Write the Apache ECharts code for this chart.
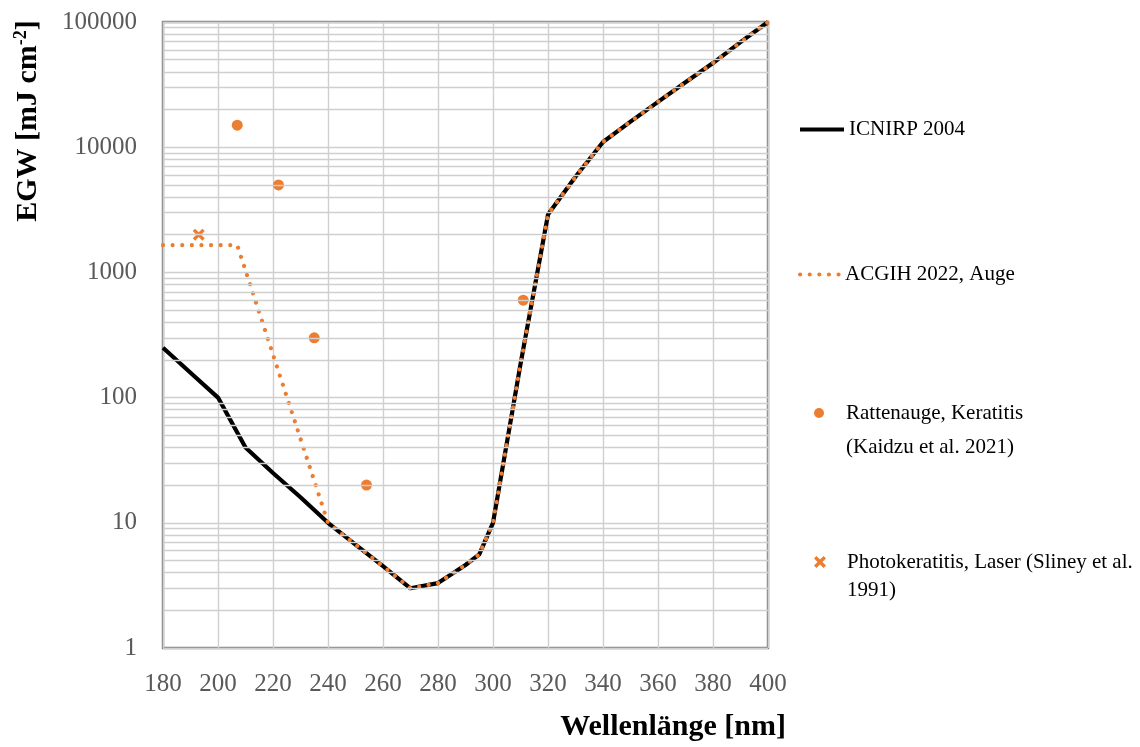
<!DOCTYPE html>
<html>
<head>
<meta charset="utf-8">
<script src="https://cdn.jsdelivr.net/npm/echarts@6/dist/echarts.min.js"></script>
<style>
  html, body { margin: 0; padding: 0; background: #ffffff; }
  #chart { width: 1140px; height: 747px; }
</style>
</head>
<body>
<div id="chart"></div>
<script>
// ICNIRP 2004 exposure limit (mJ/cm²) over wavelength (nm)
const icnirpWavelength = [180, 190, 200, 210, 220, 230, 240, 250, 260, 270, 280, 290, 295, 300, 310, 320, 330, 340, 350, 360, 370, 380, 390, 400];
const icnirpEgw = [250, 158, 100, 40, 25, 16, 10, 6.7, 4.5, 3.0, 3.3, 4.6, 5.6, 10, 185, 2900, 5800, 11000, 16000, 23000, 33000, 47000, 69000, 100000];

// ACGIH 2022 limit for the eye
const acgihWavelength = [180, 207, 240, 250, 260, 270, 280, 290, 295, 300, 310, 320, 330, 340, 350, 360, 370, 380, 390, 400];
const acgihEgw = [1650, 1650, 10, 6.7, 4.5, 3.0, 3.3, 4.6, 5.6, 10, 185, 2900, 5800, 11000, 16000, 23000, 33000, 47000, 69000, 100000];

// Rat eye keratitis thresholds (Kaidzu et al. 2021)
const ratWavelength = [207, 222, 235, 254, 311];
const ratEgw = [15000, 5000, 300, 20, 600];

// Laser photokeratitis threshold (Sliney et al. 1991)
const laserWavelength = [193];
const laserEgw = [2000];

// Axis ticks
const xTicks = { min: 180, max: 400, step: 20 };
const yDecades = { min: 1, max: 100000 };
const minorGridValues = [
  2, 3, 4, 5, 6, 7, 8, 9,
  20, 30, 40, 50, 60, 70, 80, 90,
  200, 300, 400, 500, 600, 700, 800, 900,
  2000, 3000, 4000, 5000, 6000, 7000, 8000, 9000,
  20000, 30000, 40000, 50000, 60000, 70000, 80000, 90000
];

const ORANGE = '#ED7D31';
const SERIF = '"Liberation Serif", "Times New Roman", serif';
const GRID_LINE = { color: '#cfcfcf', width: 1.4 };
const pairs = (xs, ys) => xs.map((x, i) => [x, ys[i]]);
const crossPath = 'path://M0,2L2,0L5,3L8,0L10,2L7,5L10,8L8,10L5,7L2,10L0,8L3,5Z';

const names = {
  icnirp: 'ICNIRP 2004',
  acgih: 'ACGIH 2022, Auge',
  rat: 'Rattenauge, Keratitis (Kaidzu et al. 2021)',
  laser: 'Photokeratitis, Laser (Sliney et al. 1991)'
};

const legendText = { fontFamily: SERIF, fontSize: 21, color: '#000000' };
const legendBase = {
  orient: 'vertical',
  padding: 0,
  itemWidth: 44,
  itemHeight: 14,
  selectedMode: false,
  textStyle: legendText
};
// line legends: plain stroke, no marker in the middle
const lineLegend = {
  itemStyle: { color: 'rgba(0,0,0,0)', borderWidth: 0, opacity: 0 },
  lineStyle: { width: 4 }
};

const chart = echarts.init(document.getElementById('chart'), null, { renderer: 'canvas' });

chart.setOption({
  backgroundColor: '#ffffff',
  animation: false,
  grid: {
    left: 163, right: 372, top: 22, bottom: 99,
    show: true, borderColor: '#868686', borderWidth: 2.5, backgroundColor: 'transparent'
  },
  xAxis: {
    type: 'value',
    min: xTicks.min, max: xTicks.max, interval: xTicks.step,
    axisLine: { show: false },
    axisTick: { show: false },
    axisLabel: { fontFamily: SERIF, fontSize: 25, color: '#595959', margin: 24 },
    splitLine: { show: true, lineStyle: GRID_LINE }
  },
  yAxis: {
    type: 'log', logBase: 10,
    min: yDecades.min, max: yDecades.max,
    axisLine: { show: false },
    axisTick: { show: false },
    axisLabel: {
      fontFamily: SERIF, fontSize: 25, color: '#595959', margin: 26,
      formatter: v => String(Math.round(v))
    },
    splitLine: { show: true, lineStyle: GRID_LINE }
  },
  legend: [
    Object.assign({}, legendBase, lineLegend, { left: 798, top: 119, data: [names.icnirp] }),
    Object.assign({}, legendBase, lineLegend, {
      left: 798, top: 264, itemWidth: 40, data: [names.acgih],
      lineStyle: { width: 4.2 }
    }),
    Object.assign({}, legendBase, {
      left: 814, top: 362, itemHeight: 10, data: [names.rat],
      formatter: n => ' \n' + n.replace(' (', '\n('),
      textStyle: Object.assign({}, legendText, { lineHeight: 34 })
    }),
    Object.assign({}, legendBase, {
      left: 814, top: 520, itemHeight: 12, data: [names.laser],
      formatter: n => ' \n' + n.replace(' 1991)', '\n1991)'),
      textStyle: Object.assign({}, legendText, { lineHeight: 28 })
    })
  ],
  graphic: [
    {
      type: 'text', x: 28, y: 121, rotation: Math.PI / 2,
      style: {
        text: '{b|EGW [mJ cm}{s|-2}{b|]}',
        align: 'center', verticalAlign: 'middle',
        rich: {
          b: { fontFamily: SERIF, fontSize: 30, fontWeight: 'bold', fill: '#000000' },
          s: { fontFamily: SERIF, fontSize: 18, fontWeight: 'bold', fill: '#000000', verticalAlign: 'top', padding: [0, 0, 13, 0] }
        }
      }
    },
    {
      type: 'text', x: 786, y: 727,
      style: {
        text: 'Wellenlänge [nm]',
        align: 'right', verticalAlign: 'middle',
        font: 'bold 30px ' + SERIF, fill: '#000000'
      }
    }
  ],
  series: [
    {
      name: 'minor-grid',
      type: 'line',
      data: [],
      silent: true,
      markLine: {
        silent: true,
        symbol: ['none', 'none'],
        label: { show: false },
        lineStyle: Object.assign({ type: 'solid' }, GRID_LINE),
        emphasis: { disabled: true },
        data: minorGridValues.map(v => ({ yAxis: v }))
      }
    },
    {
      name: names.rat,
      type: 'scatter',
      data: pairs(ratWavelength, ratEgw),
      symbol: 'circle',
      symbolSize: 11,
      itemStyle: { color: ORANGE, opacity: 1 }
    },
    {
      name: names.laser,
      type: 'scatter',
      data: pairs(laserWavelength, laserEgw),
      symbol: crossPath,
      symbolSize: 12,
      itemStyle: { color: ORANGE, opacity: 1 }
    },
    {
      name: names.icnirp,
      type: 'line',
      data: pairs(icnirpWavelength, icnirpEgw),
      showSymbol: false,
      symbol: 'none',
      lineStyle: { color: '#000000', width: 4.2, join: 'round' },
      itemStyle: { color: '#000000' }
    },
    {
      name: names.acgih,
      type: 'line',
      data: pairs(acgihWavelength, acgihEgw),
      showSymbol: false,
      symbol: 'none',
      lineStyle: { color: ORANGE, width: 4.2, type: [0.01, 9.6], cap: 'round' },
      itemStyle: { color: ORANGE }
    }
  ]
});
</script>
</body>
</html>
